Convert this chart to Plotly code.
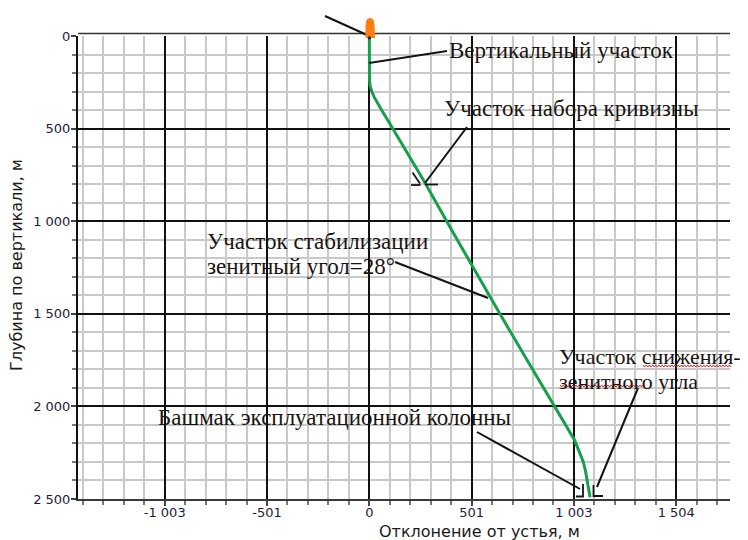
import numpy as np
import plotly.graph_objects as go

# ---------------- data ----------------
depth_m = [0, 100, 200, 240, 270, 300, 330, 360, 400, 454, 778, 1064, 1318, 1500,
           1750, 1983, 2100, 2180, 2220, 2260, 2300, 2350, 2400, 2450, 2490]
offset_m = [0, 0, 0, 1, 4, 12, 24, 38, 60, 90, 265, 412, 543, 640,
            773, 900, 962, 1005, 1020, 1036, 1049, 1060, 1069, 1076, 1082]

x_tick_vals = [-1003, -501.5, 0, 501.5, 1003, 1504.5]
x_tick_text = ["-1 003", "-501", "0", "501", "1 003", "1 504"]
y_tick_vals = [0, 500, 1000, 1500, 2000, 2500]
y_tick_text = ["0", "500", "1 000", "1 500", "2 000", "2 500"]

labels = {
    "vert": "Вертикальный участок",
    "build": "Участок набора кривизны",
    "stab1": "Участок стабилизации",
    "stab2": "зенитный угол=28°",
    "shoe": "Башмак эксплуатационной колонны",
    "drop1": "Участок снижения-",
    "drop2": "зенитного угла",
}
x_title = "Отклонение от устья, м"
y_title = "Глубина по вертикали, м"

# ---------------- layout geometry (screen pixels) ----------------
OFF = 8                      # page body margin
W, H = 748 - OFF, 540 - OFF  # figure size
L, R, T, B = 78, 730, 36, 499  # plot area in screen pixels
X_RANGE = [-1428, 1768]
Y_RANGE = [2500, 0]


def PX(px):
    return (px - L) / (R - L)


def PY(py):
    return (B - py) / (B - T)


fig = go.Figure()

fig.add_trace(go.Scatter(
    x=offset_m, y=depth_m, mode="lines",
    line=dict(color="#16a04c", width=3),
    hoverinfo="skip", showlegend=False,
))

shapes = []
black = "#141414"


def seg(x0, y0, x1, y1, w=2, c=black):
    shapes.append(dict(type="line", xref="paper", yref="paper",
                       x0=PX(x0), y0=PY(y0), x1=PX(x1), y1=PY(y1),
                       line=dict(color=c, width=w)))


def path(pts, w=2, c=black, fill=None, close=False):
    d = "M " + " L ".join(f"{PX(a):.5f},{PY(b):.5f}" for a, b in pts)
    if close:
        d += " Z"
    s = dict(type="path", xref="paper", yref="paper", path=d,
             line=dict(color=c, width=w))
    if fill:
        s["fillcolor"] = fill
    shapes.append(s)


# top double border
seg(L, 33.6, R, 33.6, w=1.5, c="#333333")

# leader lines
seg(325, 16, 367, 35)
seg(369, 63, 447, 51)
seg(467, 127, 425, 183)
seg(395, 262, 488, 298)
seg(477, 432, 580, 489)
seg(638, 388, 597, 487)

# arrow tip marks
path([(412.5, 172.5), (420, 183.5)], w=1.8)
path([(411, 185), (420.5, 185)], w=1.8)
path([(425, 184.5), (438, 184.5)], w=1.8)
path([(583, 484), (583, 496.5), (576, 496.5)], w=1.8)
path([(593.5, 485), (593.5, 496), (603, 496)], w=1.8)

# rig symbol (orange) and wellhead dot
rig = [(366, 37.5), (366, 25), (367, 20), (370, 18), (373, 20), (374, 25), (374.5, 37.5)]
path(rig, w=1, c="#ff7f0e", fill="#ff7f0e", close=True)
shapes.append(dict(type="circle", xref="paper", yref="paper",
                   x0=PX(367.8), x1=PX(371), y0=PY(39.5), y1=PY(36.3),
                   fillcolor="#1a1a80", line=dict(width=0)))


# red spell-check squiggles
def squiggle(x0, x1, y):
    pts = []
    xs = np.arange(x0, x1, 1.6)
    for i, xv in enumerate(xs):
        pts.append((xv, y + (1.0 if i % 2 else -1.0)))
    path(pts, w=1, c="#e02020")


squiggle(643, 732, 366)
squiggle(560, 646, 386)

annotations = []
serif = dict(family="Liberation Serif", size=23, color="#1a1410")
serif_small = dict(family="Liberation Serif", size=22, color="#1a1410")


def txt(key, px, py, font=serif):
    annotations.append(dict(text=labels[key], xref="paper", yref="paper",
                            x=PX(px), y=PY(py), xanchor="left", yanchor="middle",
                            showarrow=False, font=font))


txt("vert", 447, 51)
txt("build", 442, 108)
txt("stab1", 205, 241)
txt("stab2", 205, 266)
txt("shoe", 156, 417)
txt("drop1", 557, 356, serif_small)
txt("drop2", 557, 381, serif_small)

sans_title = dict(family="DejaVu Sans", size=16, color="#1a1a1a")
annotations.append(dict(text=x_title, xref="paper", yref="paper",
                        x=PX(479), y=PY(531), xanchor="center", yanchor="middle",
                        showarrow=False, font=sans_title))
annotations.append(dict(text=y_title, xref="paper", yref="paper",
                        x=PX(16), y=PY(265), xanchor="center", yanchor="middle",
                        textangle=-90, showarrow=False, font=sans_title))

tick_font = dict(family="DejaVu Sans", size=13, color="#1c1c3a")

fig.update_layout(
    width=W, height=H,
    margin=dict(l=L - OFF, r=W - (R - OFF), t=T - OFF, b=H - (B - OFF), pad=0),
    paper_bgcolor="white", plot_bgcolor="white",
    shapes=shapes, annotations=annotations,
    xaxis=dict(
        range=X_RANGE, tickmode="array", tickvals=x_tick_vals, ticktext=x_tick_text,
        showgrid=True, gridcolor="#111111", gridwidth=1.5, zeroline=False,
        showline=True, linecolor="#3a3a3a", linewidth=2,
        ticks="outside", ticklen=5, tickcolor="#444444", tickwidth=1.5,
        tickfont=tick_font, ticklabelstandoff=-5,
        minor=dict(dtick=100.3, tick0=0, showgrid=True, gridcolor="#c9c9c9",
                   gridwidth=1.5, ticks="outside", ticklen=4, tickcolor="#777777"),
        fixedrange=True,
    ),
    yaxis=dict(
        range=Y_RANGE, tickmode="array", tickvals=y_tick_vals, ticktext=y_tick_text,
        showgrid=True, gridcolor="#111111", gridwidth=1.5, zeroline=False,
        showline=True, linecolor="#111111", linewidth=2,
        ticks="outside", ticklen=5, tickcolor="#444444", tickwidth=1.5,
        tickfont=tick_font, ticklabelstandoff=-2,
        minor=dict(dtick=100, tick0=0, showgrid=True, gridcolor="#c9c9c9",
                   gridwidth=1.5, ticks="outside", ticklen=4, tickcolor="#777777"),
        fixedrange=True,
    ),
)

fig.write_html("out.html")
